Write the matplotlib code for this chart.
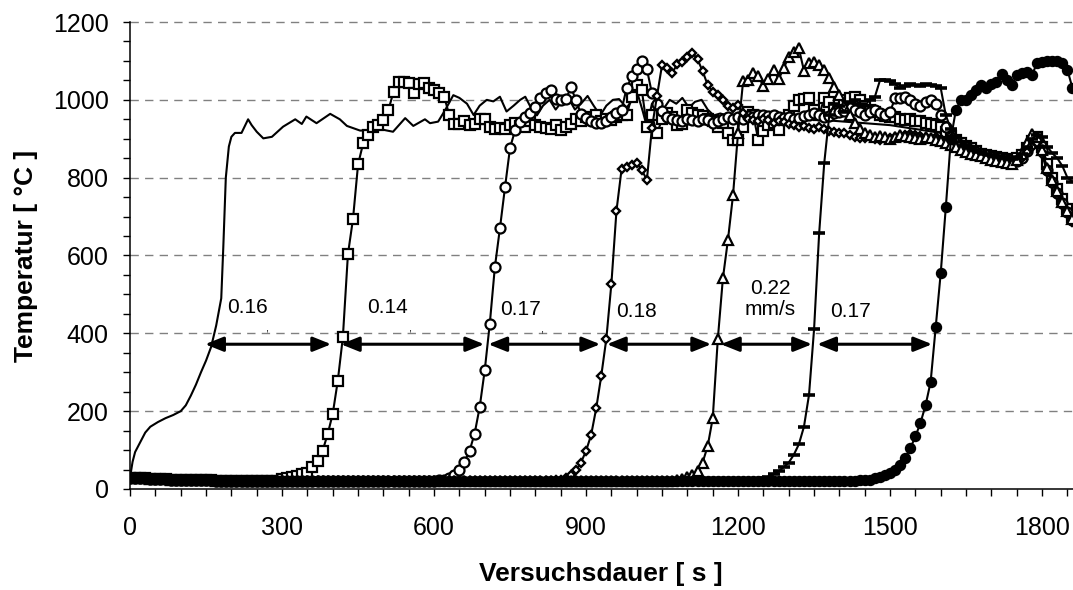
import numpy as np
import matplotlib
matplotlib.use("Agg")
import matplotlib.pyplot as plt
from matplotlib.ticker import MultipleLocator

plt.rcParams['font.family'] = ['Liberation Sans', 'DejaVu Sans']

# sampling grid of the thermocouple series (s)
time_s = np.arange(0, 1861, 10)

# common baseline (t = 0 .. 1390 s)
base = [28, 28, 27, 27, 26, 26, 25, 25, 24, 24,
        24, 23, 23, 23, 22, 22, 22, 21, 21, 21,
        21, 21, 20, 20, 20, 20, 20, 20, 20, 20,
        20, 20, 20, 20, 20, 20, 20, 20, 20, 20,
        20, 20, 20, 20, 20, 20, 20, 20, 20, 20,
        20, 20, 20, 20, 20, 20, 20, 20, 20, 20,
        20, 20, 20, 20, 20, 20, 20, 20, 20, 20,
        20, 20, 20, 20, 20, 20, 20, 20, 20, 20,
        20, 20, 20, 20, 20, 20, 20, 20, 20, 20,
        20, 20, 20, 20, 20, 20, 20, 20, 20, 20,
        20, 20, 20, 20, 20, 20, 20, 20, 20, 20,
        20, 20, 20, 20, 20, 20, 20, 20, 20, 20,
        20, 20, 20, 20, 20, 20, 20, 20, 20, 20,
        20, 20, 20, 20, 20, 20, 20, 20, 20, 20]

# plain line (no markers), own time stamps
time_plain = [0, 5, 10, 20, 30, 40, 55, 70, 85, 100, 110, 120, 130, 140, 150, 160, 170, 180,
              184, 189, 195, 200, 207, 220, 233, 240, 250, 263, 280, 302, 326, 339, 348, 368,
              395, 414, 428, 454, 500, 519, 543, 559, 582, 592, 608, 622, 638, 650, 665, 678,
              690, 704, 717, 730, 743, 757, 770, 780, 793, 803, 815, 828, 840, 852, 865, 878,
              890, 903, 915, 928, 940, 953, 965, 980, 992, 1003, 1012, 1020, 1030, 1040, 1052,
              1065, 1078, 1090, 1103, 1115, 1128, 1140, 1152, 1165, 1200, 1250, 1300, 1350,
              1400, 1450, 1500, 1550, 1600, 1650, 1700, 1750, 1780, 1800, 1830, 1860]
temp_plain = [30, 70, 95, 120, 145, 160, 172, 182, 190, 200, 215, 240, 268, 300, 330, 365, 420, 490,
              620, 800, 880, 905, 915, 915, 950, 935, 918, 901, 905, 931, 950, 938, 957, 940,
              964, 950, 933, 921, 923, 918, 953, 933, 950, 940, 944, 974, 1012, 1005, 990, 961,
              985, 1000, 996, 1008, 970, 985, 1000, 1008, 975, 960, 985, 1000, 975, 995, 1005, 975,
              990, 1010, 985, 960, 985, 1000, 1002, 980, 1000, 1010, 970, 931, 990, 1000, 975,
              1000, 990, 1005, 980, 995, 1000, 975, 960, 965, 950, 955, 945, 950,
              945, 940, 935, 925, 915, 890, 860, 845, 880, 870, 780, 700]

temp_square = base[:30] + [
    26, 28, 30, 33, 38, 42, 57, 73, 98, 141,
    193, 278, 390, 603, 694, 834, 888, 910, 929, 935,
    948, 974, 1021, 1045, 1045, 1044, 1018, 1040, 1042, 1030,
    1025, 1018, 1008, 961, 938, 938, 945, 935, 938, 950,
    950, 930, 925, 928, 925, 935, 940, 932, 930, 945,
    935, 930, 928, 925, 935, 922, 930, 938, 950, 945,
    955, 948, 962, 945, 950, 948, 955, 960, 960, 1008,
    1038, 1025, 931, 960, 914, 950, 965, 955, 935, 938,
    974, 965, 960, 958, 950, 945, 930, 940, 914, 897,
    897, 930, 970, 960, 897, 920, 935, 940, 923, 950,
    960, 985, 1000, 1002, 1004, 975, 960, 1004, 995, 980,
    990, 1000, 1004, 1008, 1000, 985, 975, 968, 960, 958,
    955, 955, 950, 948, 950, 945, 945, 940, 938, 935,
    930, 918, 908, 898, 890, 882, 875, 868, 862, 858,
    855, 852, 850, 848, 846, 850, 858, 875, 895, 905,
    880, 835, 800, 770, 745, 720, 700]

temp_circle = base[:60] + [
    21, 22, 24, 28, 35, 50, 70, 98, 142, 210,
    305, 425, 570, 670, 775, 877, 922, 944, 955, 965,
    981, 1004, 1018, 1025, 1001, 1000, 1001, 1032, 1000, 963,
    953, 945, 940, 941, 945, 955, 965, 974, 1030, 1060,
    1078, 1100, 1079, 1017, 990, 971, 955, 950, 948, 945,
    950, 948, 945, 950, 948, 940, 945, 950, 955, 952,
    955, 950, 958, 955, 960, 961, 958, 961, 955, 953,
    955, 950, 953, 958, 962, 965, 960, 955, 958, 965,
    968, 972, 980, 975, 970, 962, 968, 975, 965, 960,
    970, 1004, 1004, 1008, 1000, 990, 985, 995, 1000, 990,
    960, 930, 905, 895, 885, 878, 872, 866, 862, 858,
    852, 848, 845, 842, 840, 843, 850, 868, 890, 900,
    870, 820, 790, 760, 735, 712, 690]

temp_diamond = base[:80] + [
    20, 20, 21, 21, 22, 24, 28, 36, 48, 68,
    98, 139, 207, 291, 386, 528, 715, 821, 828, 833,
    837, 820, 794, 928, 1010, 1090, 1081, 1070, 1091, 1098,
    1111, 1121, 1104, 1074, 1038, 1021, 1012, 1000, 984, 980,
    988, 965, 950, 948, 945, 950, 948, 940, 945, 942,
    938, 935, 930, 932, 928, 925, 930, 926, 920, 918,
    915, 914, 910, 905, 901, 903, 905, 900, 898, 900,
    902, 905, 908, 910, 912, 910, 906, 904, 900, 905,
    900, 895, 888, 880, 875, 870, 865, 860, 856, 852,
    848, 845, 842, 840, 838, 842, 850, 865, 880, 890,
    860, 815, 785, 755, 730, 708, 685]

temp_triangle = base[:100] + [
    20, 20, 20, 20, 20, 20, 21, 21, 22, 25,
    30, 36, 45, 68, 110, 182, 385, 541, 640, 755,
    916, 1049, 1052, 1068, 1061, 1035, 1053, 1077, 1053, 1081,
    1111, 1124, 1132, 1075, 1094, 1098, 1090, 1077, 1055, 1032,
    1012, 985, 960, 940, 925, 915, 910, 905, 908, 904,
    900, 905, 910, 908, 905, 902, 900, 905, 902, 898,
    895, 890, 885, 878, 872, 866, 862, 858, 855, 850,
    846, 843, 840, 838, 836, 845, 860, 890, 912, 905,
    870, 825, 795, 765, 738, 715, 695]

temp_dash = base[:120] + [
    20, 21, 21, 22, 24, 27, 32, 38, 46, 56,
    68, 88, 115, 160, 242, 411, 657, 837, 960, 990,
    985, 970, 995, 1000, 990, 985, 1000, 1008, 1050, 1052,
    1048, 1040, 1030, 1035, 1040, 1038, 1035, 1040, 1038, 1036,
    1030, 960, 925, 905, 892, 885, 878, 872, 866, 862,
    858, 855, 852, 850, 848, 852, 860, 878, 900, 910,
    905, 880, 863, 850, 830, 800, 790]

temp_filled = base[:140] + [
    20, 20, 21, 21, 22, 22, 24, 27, 31, 36,
    40, 48, 62, 80, 105, 135, 170, 215, 275, 415,
    556, 724, 900, 975, 1000, 1000, 1013, 1026, 1038, 1030,
    1040, 1047, 1067, 1050, 1038, 1064, 1070, 1072, 1064, 1094,
    1098, 1100, 1101, 1100, 1094, 1077, 1030]

# double arrows between front arrival times and speed labels
arrow_level = 372
arrow_spans = [(148, 397), (416, 699), (707, 928), (941, 1147), (1166, 1346), (1356, 1583)]
speed_labels = ["0.16", "0.14", "0.17", "0.18", "0.22\nmm/s", "0.17"]
label_pos = [(231, 467), (509, 467), (770, 460), (1000, 456), (1263, 488), (1421, 456)]
comma_pos = [(270, 413), (551, 413), (812, 411)]

fig = plt.figure(figsize=(10.73, 5.90), dpi=100)
ax = fig.add_axes([0.1212, 0.1712, 0.8788, 0.7915])

for y in [200, 400, 600, 800, 1000, 1200]:
    ax.axhline(y, color='#808080', lw=1.0, ls=(0, (6, 4.5)), zorder=0.5, clip_on=False)

lw = 1.5
ax.plot(time_plain, temp_plain, color='black', lw=lw, zorder=2)
ax.plot(time_s, temp_square, color='black', lw=lw, marker='s', ms=6.8,
        mfc='white', mec='black', mew=1.6, zorder=3)
ax.plot(time_s, temp_circle, color='black', lw=lw, marker='o', ms=7.2,
        mfc='white', mec='black', mew=1.6, zorder=3)
ax.plot(time_s, temp_diamond, color='black', lw=lw, marker='D', ms=4.4,
        mfc='white', mec='black', mew=1.7, zorder=3)
ax.plot(time_s, temp_triangle, color='black', lw=lw, marker='^', ms=7.2,
        mfc='white', mec='black', mew=1.6, zorder=3)
ax.plot(time_s, temp_dash, color='black', lw=lw, marker='_', ms=9,
        mec='black', mew=2.6, zorder=3)
ax.plot(time_s, temp_filled, color='black', lw=lw, marker='o', ms=7.2,
        mfc='black', mec='black', mew=1.0, zorder=3)

for (a, b) in arrow_spans:
    ax.annotate('', xy=(b, arrow_level), xytext=(a, arrow_level),
                arrowprops=dict(arrowstyle='<|-|>,head_length=0.55,head_width=0.22',
                                lw=2.2, color='black', shrinkA=0, shrinkB=0,
                                mutation_scale=20), zorder=5)

for txt, (x, y) in zip(speed_labels, label_pos):
    ax.text(x, y, txt, ha='center', va='center', fontsize=15, linespacing=1.15, zorder=6)
for (x, y) in comma_pos:
    ax.text(x, y, ',', ha='center', va='center', fontsize=8, zorder=6)

ax.set_xlim(0, 1861)
ax.set_ylim(0, 1200)
ax.xaxis.set_major_locator(MultipleLocator(300))
ax.xaxis.set_minor_locator(MultipleLocator(50))
ax.yaxis.set_major_locator(MultipleLocator(200))
ax.yaxis.set_minor_locator(MultipleLocator(50))

for s in ['top', 'right']:
    ax.spines[s].set_visible(False)
for s in ['left', 'bottom']:
    ax.spines[s].set_linewidth(1.1)
    ax.spines[s].set_zorder(4)

ax.tick_params(axis='both', which='both', direction='out', length=5, width=1.0, colors='black')
ax.tick_params(axis='x', which='major', labelsize=18, pad=14.5)
ax.tick_params(axis='y', which='major', labelsize=18, pad=10.5)

# axis titles placed in figure pixels
fig.text(601 / 1073, 1 - 581 / 590, 'Versuchsdauer [ s ]', fontsize=19, fontweight='bold',
         ha='center', va='baseline')
fig.text(26 / 1073, 1 - 256 / 590, 'Temperatur [ °C ]', fontsize=19, fontweight='bold',
         ha='center', va='center', rotation=90)

fig.savefig('out.png', dpi=100)
